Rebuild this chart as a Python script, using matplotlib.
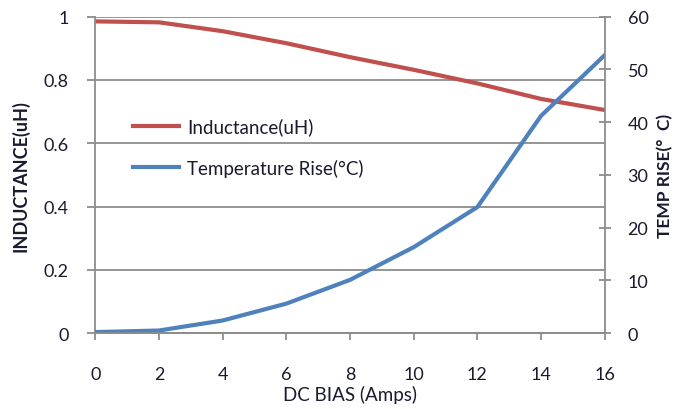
import matplotlib.pyplot as plt

# DC bias (A)
bias = [0, 2, 4, 6, 8, 10, 12, 14, 16]
# inductance (uH), left axis
inductance = [0.985, 0.982, 0.954, 0.916, 0.872, 0.832, 0.789, 0.740, 0.705]
# temperature rise (degC), right axis
temp_rise = [0.2, 0.5, 2.4, 5.6, 10.1, 16.3, 23.9, 41.2, 52.7]

plt.rcParams['font.family'] = ['Lato', 'DejaVu Sans']
txt = '#1a1a2e'
grey = '#8c8c8c'

fig = plt.figure(figsize=(6.81, 4.10), dpi=100)
ax = fig.add_axes([0.140, 0.185, 0.748, 0.772])
ax2 = ax.twinx()

l1, = ax.plot(bias, inductance, color='#c0504d', lw=3, label='Inductance(uH)')
l2, = ax2.plot(bias, temp_rise, color='#4f81bd', lw=3, label='Temperature Rise(°C)')

ax.set_xlim(0, 16)
ax.set_ylim(0, 1)
ax2.set_ylim(0, 60)
ax.set_xticks(bias)
ax.set_yticks([0, 0.2, 0.4, 0.6, 0.8, 1])
ax.set_yticklabels(['0', '0.2', '0.4', '0.6', '0.8', '1'])
ax2.set_yticks(range(0, 61, 10))

ax.grid(axis='y', color=grey, lw=1.3)
ax.set_axisbelow(True)

for a in (ax, ax2):
    for s in a.spines.values():
        s.set_color(grey)
        s.set_linewidth(1.3)
    a.spines['top'].set_visible(False)
ax2.spines['left'].set_visible(False)
ax.spines['right'].set_visible(False)

ax.tick_params(axis='x', colors=grey, labelcolor=txt, labelsize=13, length=5, width=1.3, pad=19)
ax.tick_params(axis='y', colors=grey, labelcolor=txt, labelsize=13, length=6, width=1.3, pad=13)
ax2.tick_params(axis='y', colors=grey, labelcolor=txt, labelsize=13, length=9, width=1.3,
                direction='inout', pad=12)

ax.set_xlabel('DC BIAS (Amps)', fontsize=13.5, color=txt, labelpad=2)
ax.set_ylabel('INDUCTANCE(uH)', fontsize=13, fontweight='bold', color=txt, labelpad=10)
ax2.set_ylabel('TEMP RISE(°  C)', fontsize=12.5, fontweight='bold', color=txt, labelpad=6)

ax.legend(handles=[l1, l2], loc='upper left', bbox_to_anchor=(0.04, 0.735), frameon=False,
          fontsize=13.5, handlelength=2.5, labelspacing=1.25, handletextpad=0.4,
          labelcolor=txt)

fig.savefig('out.png', dpi=100)
